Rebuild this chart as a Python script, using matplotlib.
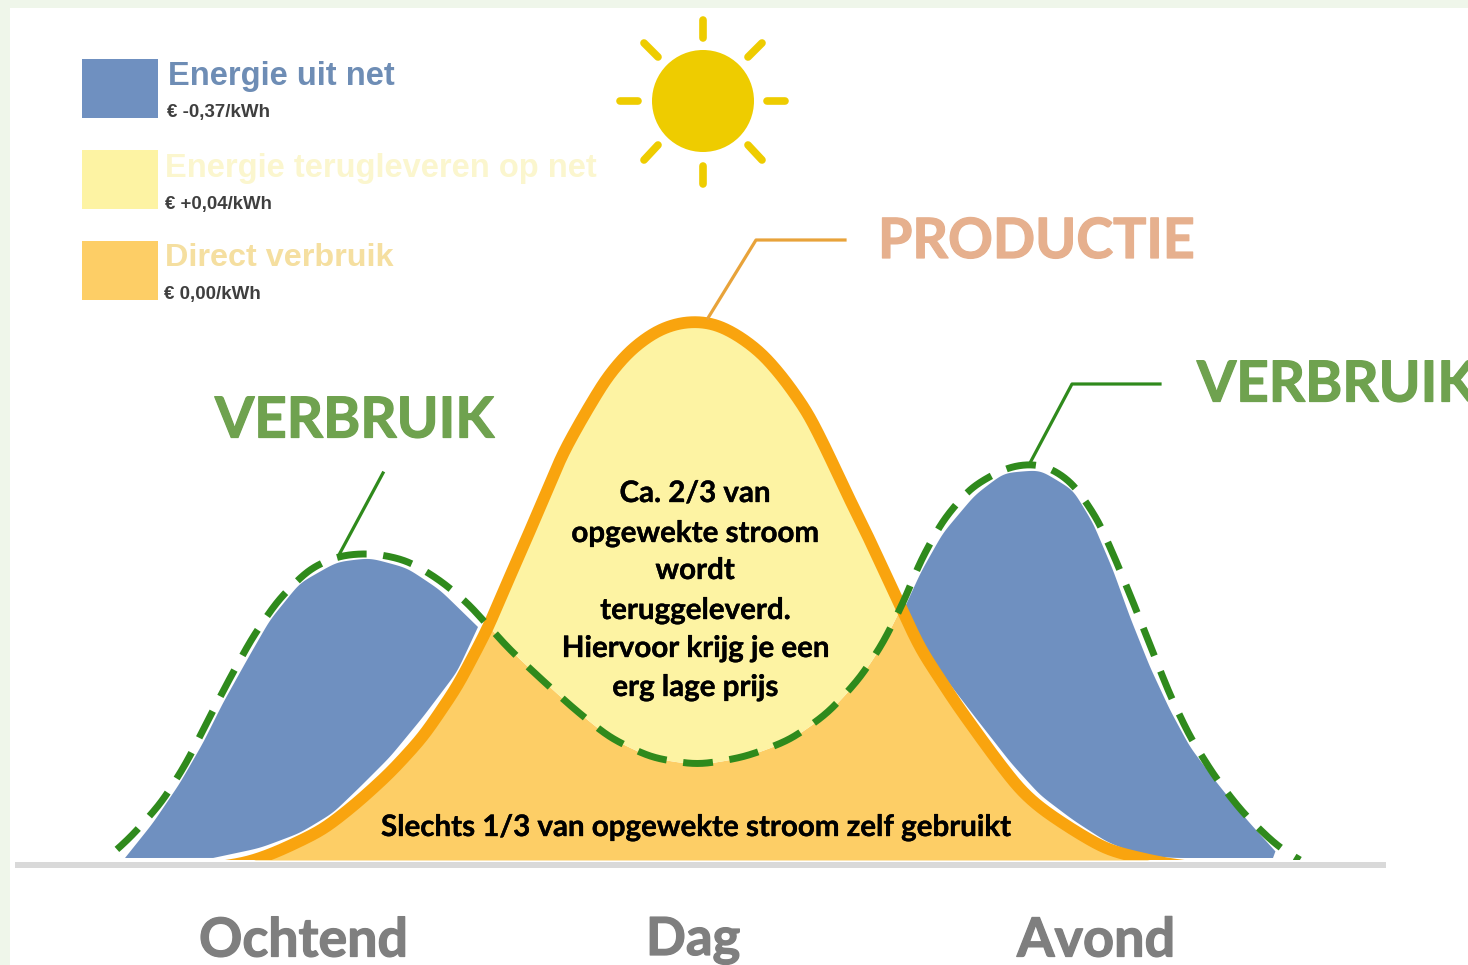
import numpy as np
import matplotlib
matplotlib.use("Agg")
import matplotlib.pyplot as plt
import matplotlib.patheffects as pe
from matplotlib.patches import Rectangle, Circle

# ---- data: position along the day, height above the baseline ----
production_x = [225, 247, 277, 323, 357, 390, 423, 457, 487, 507, 523, 543, 563, 583, 607, 630, 657, 680, 697,
                715, 738, 762, 785, 808, 828, 845, 865, 885, 902, 921, 957, 993, 1020, 1040, 1073, 1107, 1140, 1167, 1185]
production_h = [-6, -3, 8, 30, 57, 87, 123, 173, 230, 277, 313, 360, 407, 443, 483, 510, 530, 538, 539,
                537, 525, 507, 480, 447, 407, 370, 330, 287, 250, 210, 155, 105, 70, 52, 30, 10, 2, -4, -6]

consumption_x = [105, 130, 162, 187, 208, 230, 252, 278, 310, 340, 373, 407, 440, 470, 480, 510, 540, 573,
                 610, 652, 698, 745, 790, 828, 860, 883, 903, 921, 943, 971, 1007, 1032, 1050, 1073, 1098,
                 1117, 1135, 1152, 1170, 1190, 1215, 1243, 1278, 1300]
consumption_h = [0, 22, 58, 98, 140, 182, 222, 260, 292, 305, 307, 300, 280, 255, 243, 210, 182, 152,
                 122, 102, 95, 103, 120, 147, 182, 217, 257, 300, 340, 373, 393, 397, 393, 377, 340,
                 297, 253, 210, 165, 123, 83, 47, 13, 0]

blue_left_top_x = [125, 153, 180, 203, 223, 247, 270, 300, 337, 370, 407, 440, 478]
blue_left_top_h = [2, 37, 77, 117, 157, 200, 240, 277, 298, 302, 292, 270, 233]
blue_left_low_x = [478, 457, 423, 390, 360, 333, 300, 260, 213]
blue_left_low_h = [233, 188, 143, 103, 73, 47, 27, 12, 2]

blue_right_top_x = [905, 921, 943, 975, 1004, 1040, 1073, 1093, 1113, 1130, 1150, 1170, 1190, 1217, 1247, 1276]
blue_right_top_h = [253, 288, 327, 365, 387, 390, 370, 337, 290, 243, 193, 150, 113, 77, 40, 8]
blue_right_low_x = [1273, 1195, 1173, 1140, 1107, 1073, 1040, 1011, 975, 939, 905]
blue_right_low_h = [2, 2, 2, 5, 18, 40, 65, 97, 143, 190, 250]

legend_titles = ["Energie uit net", "Energie terugleveren op net", "Direct verbruik"]
legend_prices = ["€ -0,37/kWh", "€ +0,04/kWh", "€ 0,00/kWh"]
day_parts = ["Ochtend", "Dag", "Avond"]
note_lines = ["Ca. 2/3 van", "opgewekte stroom", "wordt", "teruggeleverd.",
              "Hiervoor krijg je een", "erg lage prijs"]
note_bottom = "Slechts 1/3 van opgewekte stroom zelf gebruikt"

BLUE, YELLOW, ORANGE_F = "#6F90C0", "#FDF3A3", "#FDCE66"
ORANGE_L, GREEN = "#F9A40E", "#2F8A1C"
BASE = 860


def smooth(x, y, sigma=10.0):
    """Evenly resample the read polyline, then soften its corners."""
    p = np.column_stack([x, y]).astype(float)
    s = np.r_[0, np.cumsum(np.hypot(*np.diff(p, axis=0).T))]
    u = np.arange(0, s[-1], 1.0)
    q = np.column_stack([np.interp(u, s, p[:, 0]), np.interp(u, s, p[:, 1])])
    m = int(4 * sigma)
    k = np.exp(-0.5 * (np.arange(-m, m + 1) / sigma) ** 2)
    k /= k.sum()
    pad0 = 2 * q[0] - q[1:m + 1][::-1]
    pad1 = 2 * q[-1] - q[-m - 1:-1][::-1]
    full = np.vstack([pad0, q, pad1])
    o = np.column_stack([np.convolve(full[:, i], k, mode="valid") for i in (0, 1)])
    return o[:, 0], o[:, 1]


fig = plt.figure(figsize=(14.68, 9.65), dpi=100, facecolor="#EFF6EA")
ax = fig.add_axes([0, 0, 1, 1])
ax.set_xlim(0, 1468)
ax.set_ylim(BASE - 965, BASE)
ax.axis("off")
ax.add_patch(Rectangle((10, BASE - 965), 1460, 957, fc="white", ec="none", zorder=0))

px, ph = smooth(production_x, production_h, 13)
cx, ch = smooth(consumption_x, consumption_h, 12)
grid = np.linspace(103, 1300, 2400)
P = np.interp(grid, px, ph, left=0, right=0)
C = np.interp(grid, cx, ch, left=0, right=0)

ax.fill_between(grid, 0, np.maximum(np.minimum(P, C), 0), color=ORANGE_F, lw=0, zorder=1)
ax.fill_between(grid, C, P, where=P > C, color=YELLOW, lw=0, zorder=1)

for tx, th, lx, lh in [(blue_left_top_x, blue_left_top_h, blue_left_low_x, blue_left_low_h),
                       (blue_right_top_x, blue_right_top_h, blue_right_low_x, blue_right_low_h)]:
    ax1, ay1 = smooth(tx, th, 7)
    ax2, ay2 = smooth(lx, lh, 7)
    ax.fill(np.r_[ax1, ax2], np.r_[ay1, ay2], color=BLUE, lw=0, zorder=2)

clip = Rectangle((0, 0), 1468, 900, transform=ax.transData)
l1, = ax.plot(px, ph, color=ORANGE_L, lw=8.5, solid_capstyle="butt", zorder=3)
l1.set_clip_path(clip)

# dash phase: one dash sits centred on the lowest point of the consumption dip
lw_pt = 5.0
on, off = 4.3, 2.4
lw_px = lw_pt * 100 / 72
arc = np.r_[0, np.cumsum(np.hypot(np.diff(cx), np.diff(ch)))]
s_mid = np.interp(698, cx, arc) - on * lw_px / 2
phase = (-s_mid / lw_px) % (on + off)
l2, = ax.plot(cx, ch, color=GREEN, lw=lw_pt, linestyle=(phase, (on, off)),
              dash_capstyle="butt", zorder=4)
l2.set_clip_path(clip)

ax.add_patch(Rectangle((15, -8), 1371, 6, fc="#D9D9D9", ec="none", zorder=5))


def Y(v):
    return BASE - v


# call-out lines
ax.plot([708, 756, 845], [Y(318), Y(240), Y(240)], color="#E8A33A", lw=2.3, zorder=3)
ax.plot([340, 383], [Y(553), Y(473)], color=GREEN, lw=2.3, zorder=4)
ax.plot([1030, 1072, 1160], [Y(463), Y(384), Y(384)], color=GREEN, lw=2.3, zorder=4)

# sun
ax.add_patch(Circle((703, Y(101)), 51, fc="#EECC00", ec="none", zorder=3))
for (a, b, c, d) in [(703, 20, 703, 38), (703, 166, 703, 184), (620, 101, 638, 101), (767, 101, 785, 101),
                     (644, 43, 658, 57), (762, 43, 748, 57), (658, 145, 644, 160), (748, 145, 762, 160)]:
    ax.plot([a, c], [Y(b), Y(d)], color="#EECC00", lw=5.5, solid_capstyle="round", zorder=3)

# legend swatches
for top, col in zip([59, 150, 241], [BLUE, YELLOW, ORANGE_F]):
    ax.add_patch(Rectangle((82, Y(top + 59)), 76, 59, fc=col, ec="none", zorder=3))

renderer = fig.canvas.get_renderer()


def fit(s, x0, x1, yc, color, family, size=20, stroke=0.0):
    t = ax.text(x0, Y(yc), s, color=color, family=family, weight="bold", fontsize=size,
                ha="left", va="center", zorder=6, clip_on=False)
    w = t.get_window_extent(renderer).width
    t.set_fontsize(size * (x1 - x0) / w)
    if stroke:
        t.set_path_effects([pe.withStroke(linewidth=stroke, foreground=color)])
    return t


fit(legend_titles[0], 168, 395, 76, "#6E8DB5", "Liberation Sans")
fit(legend_titles[1], 165, 597, 168, "#FBF6CE", "Liberation Sans")
fit(legend_titles[2], 165, 393, 258, "#F5DFA0", "Liberation Sans")
fit(legend_prices[0], 167, 270, 112, "#3F3F3F", "Liberation Sans", size=12)
fit(legend_prices[1], 165, 272, 204, "#3F3F3F", "Liberation Sans", size=12)
fit(legend_prices[2], 164, 260, 294, "#3F3F3F", "Liberation Sans", size=12)

fit("PRODUCTIE", 878, 1195, 242, "#E6B08E", "Lato", stroke=0.9)
vt = fit("VERBRUIK", 215, 494, 421, "#6FA24F", "Lato", stroke=0.9)
ax.text(1197, Y(385), "VERBRUIK", color="#6FA24F", family="Lato", weight="bold",
        fontsize=vt.get_fontsize(), ha="left", va="center", zorder=6,
        path_effects=[pe.withStroke(linewidth=0.9, foreground="#6FA24F")])

for s, (a, b) in zip(day_parts, [(199, 408), (646, 740), (1017, 1175)]):
    fit(s, a, b, 941, "#7F7F7F", "Lato", stroke=0.9)

bt = fit(note_bottom, 381, 1011, 827, "black", "Lato", stroke=0.25)
for s, yc in zip(note_lines, [493, 533, 570, 610, 648, 687]):
    ax.text(695, Y(yc), s, color="black", family="Lato", weight="bold",
            fontsize=bt.get_fontsize(), ha="center", va="center", zorder=6,
            path_effects=[pe.withStroke(linewidth=0.25, foreground="black")])

fig.savefig("out.png", dpi=100, facecolor=fig.get_facecolor())
